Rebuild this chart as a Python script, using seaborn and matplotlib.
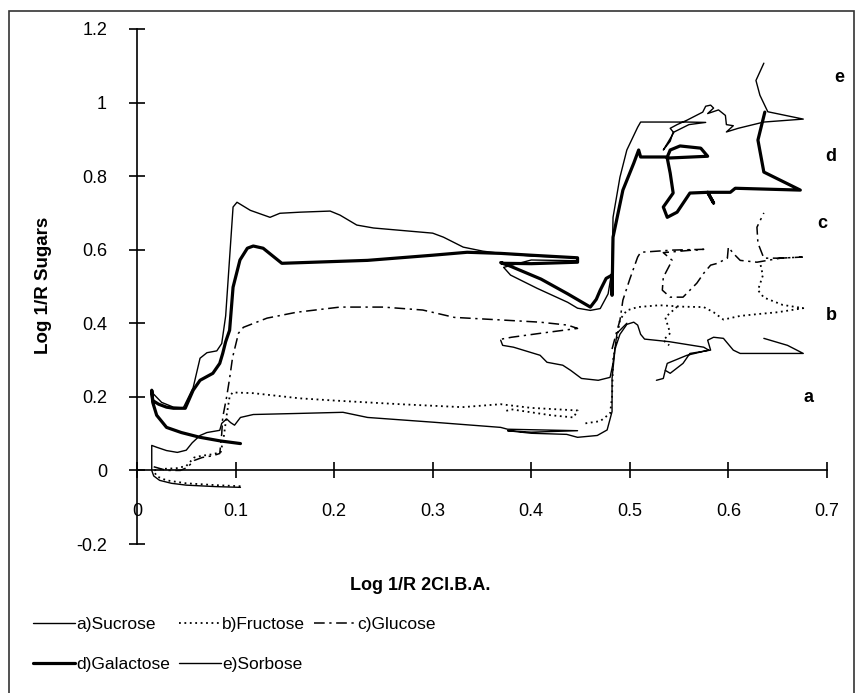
import numpy as np
import pandas as pd
import matplotlib.pyplot as plt
import seaborn as sns
from matplotlib.lines import Line2D
from matplotlib.patches import Rectangle

# Valeurs (Log 1/R 2Cl.B.A. en x, Log 1/R sucre en y)
# np.nan sépare les morceaux d'une même courbe

sucrose_x = [0.105, 0.08, 0.05, 0.035, 0.023, 0.017, 0.015, 0.015, 0.020, 0.030, 0.041, 0.050, 0.056,
             0.064, 0.071, 0.084, 0.086, 0.091, 0.095, 0.099, 0.105, 0.118, 0.165, 0.209, 0.234, 0.301,
             0.369, 0.376, 0.447, 0.40, 0.376, 0.40, 0.436, 0.447, 0.467, 0.477, 0.482, 0.482, 0.485,
             0.490, 0.497, 0.504, 0.508, 0.511, 0.515, 0.540, 0.575, 0.580, 0.558, 0.538, 0.536, 0.541,
             0.554, 0.561, 0.582, 0.579, 0.585, 0.595, 0.605, 0.612, 0.676, 0.660, 0.636,
             np.nan,
             0.369, 0.371, 0.382, 0.409, 0.416, 0.432, 0.440, 0.451, 0.468, 0.480, 0.483, 0.487, 0.497,
             np.nan,
             0.536, 0.534, 0.527]
sucrose_y = [-0.046, -0.044, -0.040, -0.035, -0.027, -0.015, 0.0, 0.068, 0.063, 0.054, 0.049, 0.055, 0.075,
             0.095, 0.103, 0.109, 0.128, 0.140, 0.130, 0.123, 0.144, 0.152, 0.155, 0.158, 0.144, 0.131,
             0.117, 0.112, 0.108, 0.104, 0.108, 0.101, 0.098, 0.090, 0.095, 0.110, 0.160, 0.250, 0.330,
             0.370, 0.397, 0.403, 0.395, 0.370, 0.357, 0.350, 0.335, 0.327, 0.313, 0.291, 0.272, 0.264,
             0.291, 0.318, 0.327, 0.354, 0.362, 0.359, 0.327, 0.318, 0.318, 0.340, 0.359,
             np.nan,
             0.354, 0.340, 0.335, 0.313, 0.294, 0.286, 0.272, 0.250, 0.245, 0.253, 0.291, 0.373, 0.400,
             np.nan,
             0.272, 0.250, 0.245]

fructose_x = [0.105, 0.08, 0.05, 0.03, 0.020, 0.017, 0.025, 0.040, 0.050, 0.058, 0.066, 0.077, 0.085,
              0.088, 0.091, 0.094, 0.097, 0.118, 0.165, 0.200, 0.267, 0.330, 0.369, 0.400, 0.447, 0.443,
              0.420, 0.395, 0.380, 0.372,
              np.nan,
              0.455, 0.470, 0.480, 0.482, 0.483, 0.487, 0.490, 0.497, 0.508, 0.530, 0.555, 0.575, 0.585,
              0.595, 0.612, 0.630, 0.650, 0.676, 0.655, 0.636, 0.630, 0.635, 0.632,
              np.nan,
              0.548, 0.536, 0.541, 0.534, 0.540]
fructose_y = [-0.043, -0.040, -0.035, -0.027, -0.016, 0.0, 0.004, 0.006, 0.012, 0.035, 0.040, 0.044, 0.050,
              0.090, 0.150, 0.200, 0.212, 0.210, 0.196, 0.190, 0.180, 0.172, 0.180, 0.170, 0.163, 0.144,
              0.150, 0.160, 0.166, 0.160,
              np.nan,
              0.128, 0.134, 0.155, 0.200, 0.300, 0.360, 0.410, 0.435, 0.444, 0.449, 0.445, 0.444, 0.430,
              0.410, 0.420, 0.425, 0.430, 0.441, 0.450, 0.470, 0.490, 0.530, 0.567,
              np.nan,
              0.445, 0.416, 0.373, 0.354, 0.340]

glucose_x = [0.017, 0.030, 0.044, 0.051, 0.058, 0.066, 0.077, 0.084, 0.086, 0.087, 0.091, 0.094, 0.097,
             0.103, 0.108, 0.132, 0.162, 0.206, 0.250, 0.290, 0.322, 0.376, 0.409, 0.437, 0.447, 0.410,
             0.380, 0.370,
             np.nan,
             0.482, 0.487, 0.490, 0.493, 0.500, 0.508, 0.511, 0.544, 0.575, 0.560, 0.534, 0.543, 0.534,
             0.533, 0.541, 0.554, 0.568, 0.575, 0.582, 0.589, 0.599, 0.600, 0.605, 0.612, 0.629, 0.653,
             0.675, 0.653, 0.636, 0.630, 0.629, 0.636]
glucose_y = [0.010, 0.0, 0.0, 0.008, 0.027, 0.035, 0.040, 0.046, 0.100, 0.144, 0.200, 0.250, 0.307,
             0.373, 0.389, 0.414, 0.430, 0.444, 0.444, 0.436, 0.416, 0.408, 0.403, 0.395, 0.386, 0.373,
             0.362, 0.357,
             np.nan,
             0.330, 0.380, 0.408, 0.463, 0.520, 0.580, 0.593, 0.599, 0.601, 0.598, 0.592, 0.571, 0.525,
             0.490, 0.471, 0.471, 0.509, 0.536, 0.558, 0.563, 0.577, 0.607, 0.590, 0.571, 0.566, 0.577,
             0.580, 0.577, 0.577, 0.618, 0.661, 0.700]

galactose_x = [0.105, 0.085, 0.064, 0.045, 0.030, 0.020, 0.016, 0.015, 0.016, 0.022, 0.030, 0.037, 0.049,
               0.057, 0.064, 0.077, 0.084, 0.087, 0.090, 0.094, 0.0975, 0.1045, 0.112, 0.118, 0.128, 0.147,
               0.234, 0.300, 0.335, 0.369, 0.400, 0.447, 0.447, 0.400, 0.372, 0.369, 0.379, 0.410, 0.437,
               0.460, 0.466, 0.470, 0.476, 0.482, 0.482, 0.483, 0.493, 0.504, 0.509, 0.511, 0.538, 0.541,
               0.551, 0.572, 0.579, 0.538, 0.541, 0.544, 0.534, 0.538, 0.548, 0.561, 0.579, 0.585, 0.579,
               0.602, 0.607, 0.673, 0.636, 0.630, 0.637]
galactose_y = [0.073, 0.080, 0.090, 0.103, 0.117, 0.150, 0.185, 0.218, 0.190, 0.180, 0.172, 0.169, 0.169,
               0.218, 0.245, 0.264, 0.291, 0.318, 0.350, 0.381, 0.498, 0.572, 0.604, 0.610, 0.604, 0.563,
               0.571, 0.585, 0.593, 0.590, 0.585, 0.578, 0.566, 0.562, 0.563, 0.565, 0.555, 0.520, 0.480,
               0.444, 0.465, 0.490, 0.522, 0.531, 0.476, 0.634, 0.762, 0.835, 0.871, 0.852, 0.852, 0.871,
               0.882, 0.876, 0.854, 0.849, 0.808, 0.754, 0.716, 0.688, 0.702, 0.754, 0.756, 0.727, 0.756,
               0.756, 0.767, 0.762, 0.811, 0.898, 0.974]

sorbose_x = [0.016, 0.025, 0.037, 0.047, 0.057, 0.064, 0.071, 0.081, 0.086, 0.090, 0.0975, 0.1015, 0.115,
             0.135, 0.145, 0.1655, 0.196, 0.206, 0.223, 0.240, 0.300, 0.311, 0.331, 0.351, 0.369, 0.400,
             0.447, 0.447, 0.400, 0.372, 0.379, 0.406, 0.437, 0.447, 0.460, 0.470, 0.478, 0.482, 0.483,
             0.490, 0.497, 0.508, 0.511, 0.558, 0.577, 0.560, 0.545, 0.534, 0.541, 0.544, 0.541, 0.548,
             0.558, 0.574, 0.577, 0.582, 0.585, 0.579, 0.590, 0.597, 0.598, 0.605, 0.598, 0.610, 0.636,
             0.676, 0.640, 0.632, 0.628, 0.636]
sorbose_y = [0.210, 0.185, 0.172, 0.170, 0.225, 0.305, 0.320, 0.325, 0.345, 0.420, 0.716, 0.729, 0.707,
             0.688, 0.699, 0.702, 0.705, 0.694, 0.667, 0.659, 0.645, 0.634, 0.607, 0.596, 0.590, 0.583,
             0.578, 0.570, 0.572, 0.552, 0.531, 0.495, 0.457, 0.441, 0.435, 0.440, 0.480, 0.544, 0.688,
             0.797, 0.871, 0.933, 0.947, 0.947, 0.946, 0.940, 0.920, 0.871, 0.895, 0.920, 0.930, 0.940,
             0.952, 0.974, 0.990, 0.993, 0.985, 0.970, 0.980, 0.965, 0.940, 0.937, 0.920, 0.930, 0.947,
             0.955, 0.975, 1.020, 1.060, 1.107]

series_names = ["a)Sucrose", "b)Fructose", "c)Glucose", "d)Galactose", "e)Sorbose"]
end_letters = ["a", "b", "c", "d", "e"]
letter_x = [0.681, 0.704, 0.695, 0.704, 0.712]
letter_y = [0.199, 0.42, 0.672, 0.852, 1.069]

x_ticks = [0, 0.1, 0.2, 0.3, 0.4, 0.5, 0.6, 0.7]
x_ticklabels = ["0", "0.1", "0.2", "0.3", "0.4", "0.5", "0.6", "0.7"]
y_ticks = [-0.2, 0, 0.2, 0.4, 0.6, 0.8, 1.0, 1.2]
y_ticklabels = ["-0.2", "0", "0.2", "0.4", "0.6", "0.8", "1", "1.2"]

# Style
sns.set_theme(style="white")
plt.rcParams["font.family"] = ["Liberation Sans", "DejaVu Sans"]
plt.rcParams["axes.unicode_minus"] = False
plt.rcParams["text.color"] = "black"


def to_frame(xs, ys):
    df = pd.DataFrame({"x": xs, "y": ys})
    df["seg"] = df["x"].isna().cumsum()
    return df.dropna()


styles = [
    dict(lw=1.0, ls="-"),
    dict(lw=1.3, ls=(0, (1.0, 2.0))),
    dict(lw=1.1, ls=(0, (7, 3, 1.5, 3))),
    dict(lw=2.3, ls="-"),
    dict(lw=1.0, ls="-"),
]
data = [(sucrose_x, sucrose_y), (fructose_x, fructose_y), (glucose_x, glucose_y),
        (galactose_x, galactose_y), (sorbose_x, sorbose_y)]

fig = plt.figure(figsize=(8.63, 6.93), dpi=100)
ax = fig.add_axes([0.1587, 0.2150, 0.7995, 0.7432])

for (xs, ys), st in zip(data, styles):
    sns.lineplot(data=to_frame(xs, ys), x="x", y="y", units="seg", estimator=None, sort=False,
                 color="black", linewidth=st["lw"], linestyle=st["ls"], legend=False, ax=ax)

ax.set_xlim(0, 0.7)
ax.set_ylim(-0.2, 1.2)
ax.set_xticks(x_ticks)
ax.set_xticklabels(x_ticklabels)
ax.set_yticks(y_ticks)
ax.set_yticklabels(y_ticklabels)
ax.set_xlabel("")
ax.set_ylabel("")

ax.spines["bottom"].set_position(("data", 0))
ax.spines["top"].set_visible(False)
ax.spines["right"].set_visible(False)
for s in ["left", "bottom"]:
    ax.spines[s].set_color("black")
    ax.spines[s].set_linewidth(1.2)
ax.tick_params(axis="x", bottom=True, direction="inout", length=11, width=1.2, pad=18,
               labelsize=13, colors="black")
ax.tick_params(axis="y", left=True, direction="inout", length=11, width=1.2, pad=16,
               labelsize=13, colors="black")

for lt, lx, ly in zip(end_letters, letter_x, letter_y):
    ax.text(lx, ly, lt, fontsize=13, fontweight="bold", ha="center", va="center", clip_on=False)

fig.text(420 / 863, 1 - 585 / 693, "Log 1/R 2Cl.B.A.", ha="center", va="center",
         fontsize=13, fontweight="bold")
fig.text(43 / 863, 1 - 285 / 693, "Log 1/R Sugars", ha="center", va="center", rotation=90,
         fontsize=13.5, fontweight="bold")

# légende en bas (ordre colonne par colonne pour avoir a b c / d e)
handles = [Line2D([], [], color="black", linewidth=st["lw"], linestyle=st["ls"]) for st in styles]
order = [0, 3, 1, 4, 2]
fig.legend([handles[i] for i in order], [series_names[i] for i in order],
           loc="upper left", bbox_to_anchor=(33 / 863, 1 - 617 / 693), ncol=3, frameon=False,
           fontsize=12.5, handlelength=2.4, handletextpad=0.1, columnspacing=0.5,
           labelspacing=1.45, borderpad=0, borderaxespad=0)

fig.add_artist(Rectangle((9 / 863, -0.01), 845 / 863, 0.994, transform=fig.transFigure,
                         fill=False, linewidth=1.2, edgecolor="0.2"))

plt.savefig("out.png", dpi=100)
plt.close()
